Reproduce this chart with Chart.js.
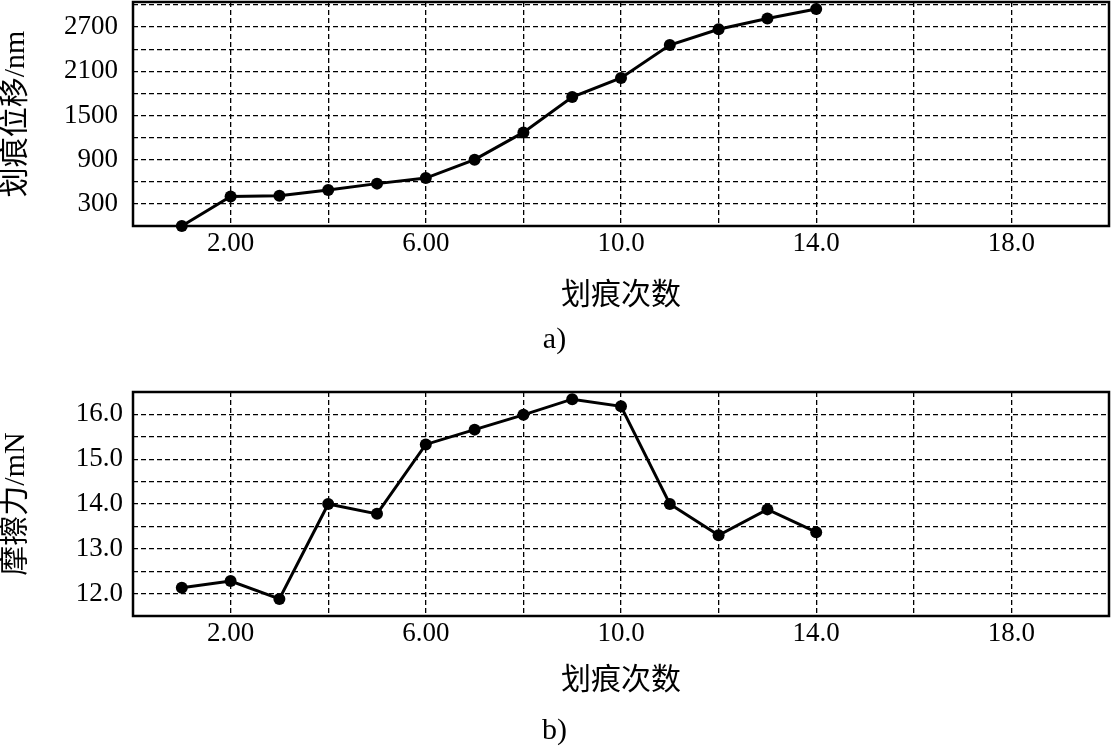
<!DOCTYPE html>
<html>
<head>
<meta charset="utf-8">
<script src="https://cdn.jsdelivr.net/npm/chart.js@4/dist/chart.umd.min.js"></script>
<style>
    body { margin: 0; background: #fff; }
    #wrap { position: relative; width: 1111px; height: 746px; }
    canvas { position: absolute; left: 0; }
</style>
</head>
<body>
<div id="wrap">
    <canvas id="graphA" width="1111" height="373" style="top:0"></canvas>
    <canvas id="graphB" width="1111" height="373" style="top:373px"></canvas>
</div>
<script>
// data
const scratchCount = [1, 2, 3, 4, 5, 6, 7, 8, 9, 10, 11, 12, 13, 14];
const displacement = [0, 400, 410, 490, 575, 650, 900, 1270, 1750, 2010, 2455, 2670, 2815, 2945];
const friction = [12.13, 12.28, 11.88, 14.0, 13.78, 15.33, 15.66, 15.99, 16.34, 16.18, 14.0, 13.3, 13.88, 13.37];

// grid positions and the labels shown on them
const xGrid = [0, 2, 4, 6, 8, 10, 12, 14, 16, 18, 20];
const xTickValues = [2, 6, 10, 14, 18];
const xTickText = ['2.00', '6.00', '10.0', '14.0', '18.0'];
const yGridA = [0, 300, 600, 900, 1200, 1500, 1800, 2100, 2400, 2700, 3000];
const yTickValuesA = [300, 900, 1500, 2100, 2700];
const yTickTextA = ['300', '900', '1500', '2100', '2700'];
const yGridB = [11.5, 12, 12.5, 13, 13.5, 14, 14.5, 15, 15.5, 16, 16.5];
const yTickValuesB = [12, 13, 14, 15, 16];
const yTickTextB = ['12.0', '13.0', '14.0', '15.0', '16.0'];

const FONT = '"Liberation Serif", "Noto Sans CJK SC", serif';

function pickLabel(values, texts, v) {
    let idx = values.findIndex(t => Math.abs(t - v) < 1e-6);
    return idx >= 0 ? texts[idx] : '';
}

// solid frame round the plot area
const framePlugin = {
    id: 'frame',
    beforeDatasetsDraw(chart) {
        const a = chart.chartArea;
        const ctx = chart.ctx;
        ctx.save();
        ctx.strokeStyle = '#000';
        ctx.lineWidth = 2.5;
        ctx.strokeRect(a.left, a.top, a.right - a.left, a.bottom - a.top);
        ctx.restore();
    }
};

function makeChart(id, values, opts) {
    let ctx = document.getElementById(id).getContext('2d');
    const data = {
        datasets: [{
            data: scratchCount.map((c, i) => ({x: c, y: values[i]})),
            borderColor: '#000',
            backgroundColor: '#000',
            borderWidth: 3,
            pointRadius: 6,
            pointBorderWidth: 0,
            pointBackgroundColor: '#000',
            tension: 0,
            clip: false
        }]
    };
    const config = {
        type: 'line',
        data: data,
        options: {
            responsive: false,
            animation: false,
            layout: {autoPadding: false, padding: {top: opts.padTop, right: 2, left: 0, bottom: 0}},
            plugins: {
                legend: {display: false},
                tooltip: {enabled: false},
                title: {
                    display: true,
                    position: 'bottom',
                    text: opts.caption,
                    color: '#000',
                    font: {family: FONT, size: 30, weight: 'normal', lineHeight: 1},
                    padding: {top: 0, bottom: opts.captionPad}
                }
            },
            scales: {
                x: {
                    type: 'linear',
                    min: 0,
                    max: 20,
                    grid: {color: '#000', lineWidth: 1.3, drawTicks: false},
                    border: {display: false, dash: [5, 3]},
                    afterBuildTicks: s => { s.ticks = xGrid.map(v => ({value: v})); },
                    ticks: {
                        autoSkip: false,
                        maxRotation: 0,
                        padding: 4,
                        color: '#000',
                        font: {family: FONT, size: 27, lineHeight: 1},
                        callback: v => pickLabel(xTickValues, xTickText, v)
                    },
                    title: {
                        display: true,
                        text: '划痕次数',
                        color: '#000',
                        font: {family: FONT, size: 30, lineHeight: 1},
                        padding: {top: 0, bottom: opts.xTitlePad}
                    },
                    afterFit: s => {
                        s.height = opts.xHeight;
                        s.paddingLeft = 0;
                        s.paddingRight = 0;
                    }
                },
                y: {
                    min: opts.yMin,
                    max: opts.yMax,
                    grid: {color: '#000', lineWidth: 1.3, drawTicks: false},
                    border: {display: false, dash: [5, 3]},
                    afterBuildTicks: s => { s.ticks = opts.yGrid.map(v => ({value: v})); },
                    ticks: {
                        autoSkip: false,
                        padding: opts.yPad,
                        color: '#000',
                        font: {family: FONT, size: 27, lineHeight: 1},
                        callback: v => pickLabel(opts.yValues, opts.yTexts, v)
                    },
                    title: {
                        display: true,
                        text: opts.yTitle,
                        color: '#000',
                        font: {family: FONT, size: 30, lineHeight: 1},
                        padding: {top: 1, bottom: 0}
                    },
                    afterFit: s => {
                        s.width = 133;
                        s.paddingTop = 0;
                        s.paddingBottom = 0;
                    }
                }
            }
        },
        plugins: [framePlugin]
    };
    return new Chart(ctx, config);
}

let graphA = makeChart('graphA', displacement, {
    padTop: 2, caption: 'a)', captionPad: 18, xTitlePad: 14, xHeight: 99,
    yMin: 0, yMax: 3040, yPad: 15, yGrid: yGridA,
    yValues: yTickValuesA, yTexts: yTickTextA, yTitle: '划痕位移/nm'
});

let graphB = makeChart('graphB', friction, {
    padTop: 19, caption: 'b)', captionPad: 0, xTitlePad: 20, xHeight: 100,
    yMin: 11.5, yMax: 16.5, yPad: 10, yGrid: yGridB,
    yValues: yTickValuesB, yTexts: yTickTextB, yTitle: '摩擦力/mN'
});
</script>
</body>
</html>
